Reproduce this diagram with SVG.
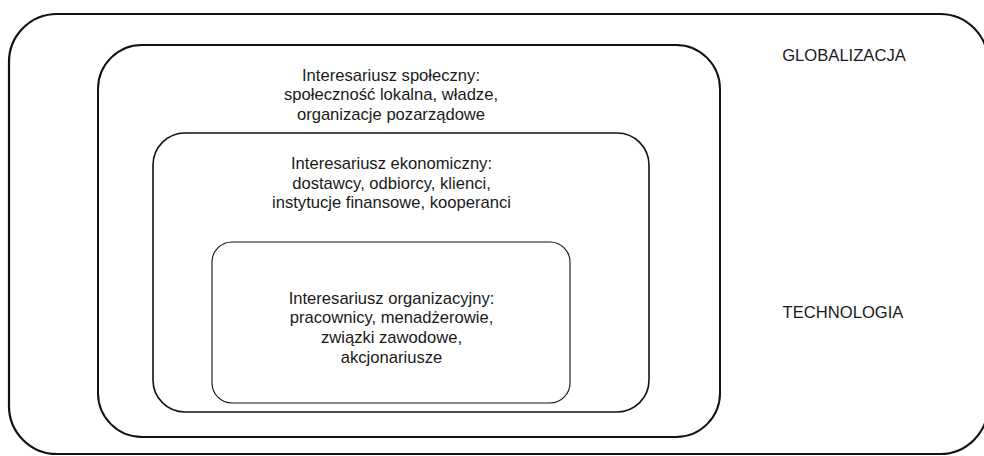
<svg xmlns="http://www.w3.org/2000/svg" width="984" height="456" viewBox="0 0 984 456">
<style>
.b{fill:none;stroke:#111}
.t{font-family:"Liberation Sans",Arial,sans-serif;font-size:16.6px;fill:#1a1a1a;text-anchor:middle}
</style>
<rect width="984" height="456" fill="#fff"/>
<g id="globalne">
<rect class="b" x="9" y="14" width="979" height="440" rx="48" stroke-width="2.2"/>
<text class="t" x="844" y="60.5">GLOBALIZACJA</text>
<text class="t" x="843" y="318">TECHNOLOGIA</text>
</g>
<g id="spoleczny">
<rect class="b" x="98" y="45" width="622" height="392" rx="44" stroke-width="2"/>
<text class="t" x="391" y="80.5">Interesariusz społeczny:</text>
<text class="t" x="391" y="100">społeczność lokalna, władze,</text>
<text class="t" x="391" y="119.5">organizacje pozarządowe</text>
</g>
<g id="ekonomiczny">
<rect class="b" x="153" y="133" width="496" height="279" rx="32" stroke-width="1.6"/>
<text class="t" x="391.5" y="169">Interesariusz ekonomiczny:</text>
<text class="t" x="391.5" y="188.5">dostawcy, odbiorcy, klienci,</text>
<text class="t" x="391.5" y="208">instytucje finansowe, kooperanci</text>
</g>
<g id="organizacyjny">
<rect class="b" x="212" y="242" width="358" height="161" rx="20" stroke="#444" stroke-width="1.1"/>
<text class="t" x="391.5" y="303.5">Interesariusz organizacyjny:</text>
<text class="t" x="391.5" y="323.2">pracownicy, menadżerowie,</text>
<text class="t" x="391.5" y="343">związki zawodowe,</text>
<text class="t" x="391.5" y="362.7">akcjonariusze</text>
</g>
<g id="connectors"></g>
</svg>
